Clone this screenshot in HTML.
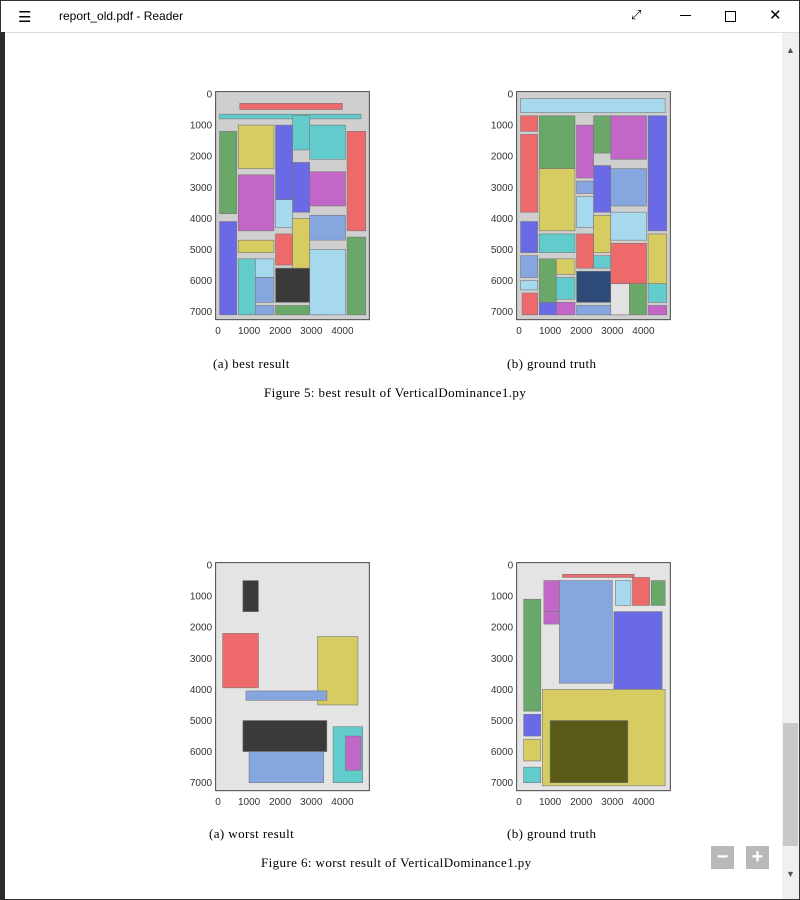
<!DOCTYPE html>
<html><head><meta charset="utf-8">
<style>
html,body{margin:0;padding:0;}
body{width:800px;height:900px;position:relative;overflow:hidden;background:#fff;font-family:"Liberation Sans",sans-serif;}
#frame{position:absolute;left:0;top:0;width:798px;height:898px;border:1px solid #333;}
#titlebar{position:absolute;left:1px;top:1px;width:798px;height:31px;background:#fff;border-bottom:1px solid #ddd;}
#title{position:absolute;left:58px;top:8px;font-size:12px;color:#000;}
#leftstrip{position:absolute;left:0;top:32px;width:5px;height:868px;background:#2b2b2b;}
#scroll{position:absolute;left:782px;top:33px;width:17px;height:866px;background:#f0f0f0;}
#thumb{position:absolute;left:783px;top:723px;width:15px;height:123px;background:#c8c8c8;}
.cap{position:absolute;font-family:"Liberation Serif",serif;font-size:13px;letter-spacing:0.4px;color:#000;white-space:nowrap;}
.zb{position:absolute;width:23px;height:23px;background:#b9b9b9;color:#fff;font-size:20px;line-height:22px;text-align:center;font-weight:bold;}
svg text{font-family:"Liberation Sans",sans-serif;font-size:10px;fill:#333;}
</style></head><body>
<div id="frame"></div>
<div id="titlebar">
  <div style="position:absolute;left:17px;top:7px;font-size:15px;">☰</div>
  <div id="title">report_old.pdf - Reader</div>
  <div style="position:absolute;left:630px;top:6px;font-size:13px;">⤢</div>
  <div style="position:absolute;left:679px;top:14px;width:11px;height:1px;background:#000;"></div>
  <div style="position:absolute;left:724px;top:10px;width:9px;height:9px;border:1px solid #000;"></div>
  <div style="position:absolute;left:768px;top:5px;font-size:15px;">✕</div>
</div>
<div id="leftstrip"></div>
<div id="scroll">
  <div style="position:absolute;left:4px;top:12px;font-size:9px;color:#555;">▲</div>
  <div style="position:absolute;left:4px;top:836px;font-size:9px;color:#555;">▼</div>
</div>
<div id="thumb"></div>

<svg id="plots" width="800" height="900" style="position:absolute;left:0;top:0;"></svg>

<div class="cap" style="left:213px;top:356px;">(a) best result</div>
<div class="cap" style="left:507px;top:356px;">(b) ground truth</div>
<div class="cap" style="left:264px;top:385px;">Figure 5:  best result of VerticalDominance1.py</div>
<div class="cap" style="left:209px;top:826px;">(a) worst result</div>
<div class="cap" style="left:507px;top:826px;">(b) ground truth</div>
<div class="cap" style="left:261px;top:855px;">Figure 6:  worst result of VerticalDominance1.py</div>
<div class="zb" style="left:711px;top:846px;">−</div>
<div class="zb" style="left:746px;top:846px;">+</div>

<script>
const xTicks=[0,1000,2000,3000,4000];
const yTicks=[0,1000,2000,3000,4000,5000,6000,7000];
const C={g:'#6aa86a',y:'#d6cc62',m:'#c266c8',b:'#6a6ae6',c:'#62cccc',l:'#a6d8ee',r:'#ee6a6a',s:'#86a6e0',k:'#3a3a3a',n:'#2d4a78',o:'#5a5a18',w:'#e2e2e2'};
const bestRects=[[700,300,4000,500,'r'],[50,650,4600,800,'c'],[50,1200,600,3850,'g'],[50,4100,600,7100,'b'],[650,1000,1800,2400,'y'],[650,2600,1800,4400,'m'],[650,4700,1800,5100,'y'],[650,5300,1200,7100,'c'],[1200,5300,1800,5900,'l'],[1200,5900,1800,6700,'s'],[1200,6800,1800,7100,'s'],[1850,1000,2400,3400,'b'],[1850,3400,2400,4300,'l'],[1850,4500,2400,5500,'r'],[1850,5600,3450,6700,'k'],[1850,6800,3450,7100,'g'],[2400,700,2950,1800,'c'],[2400,2200,2950,3800,'b'],[2400,4000,2950,5600,'y'],[2950,1000,4100,2100,'c'],[2950,2500,4100,3600,'m'],[2950,3900,4100,4700,'s'],[2950,5000,4100,7100,'l'],[4150,1200,4750,4400,'r'],[4150,4600,4750,7100,'g']];
const truthRects=[[50,150,4700,600,'l'],[50,700,600,1200,'r'],[50,1300,600,3800,'r'],[50,4100,600,5100,'b'],[50,5200,600,5900,'s'],[50,6000,600,6300,'l'],[100,6400,600,7100,'r'],[650,700,1800,2400,'g'],[650,2400,1800,4400,'y'],[650,4500,1800,5100,'c'],[650,5300,1200,6700,'g'],[1200,5300,1800,5800,'y'],[1200,5900,1800,6600,'c'],[650,6700,1200,7100,'b'],[1200,6700,1800,7100,'m'],[1850,1000,2400,2700,'m'],[1850,2800,2400,3200,'s'],[1850,3300,2400,4300,'l'],[1850,4500,2400,5600,'r'],[1850,5700,3450,6700,'n'],[1850,6800,3450,7100,'s'],[2400,700,2950,1900,'g'],[2400,2300,2950,3800,'b'],[2400,3900,2950,5100,'y'],[2400,5200,2950,5600,'c'],[2950,700,4100,2100,'m'],[2950,2400,4100,3600,'s'],[2950,3800,4100,4700,'l'],[2950,4800,4100,6100,'r'],[3550,6100,4100,7100,'g'],[2950,6100,3550,7100,'w'],[4150,700,4750,4400,'b'],[4150,4500,4750,6100,'y'],[4150,6100,4750,6700,'c'],[4150,6800,4750,7100,'m']];
const worstRects=[[800,500,1300,1500,'k'],[150,2200,1300,3950,'r'],[3200,2300,4500,4500,'y'],[900,4050,3500,4350,'s'],[800,5000,3500,6000,'k'],[1000,6000,3400,7000,'s'],[3700,5200,4650,7000,'c'],[4100,5500,4600,6600,'m']];
const worstTruthRects=[[150,1100,700,4700,'g'],[800,500,1300,1500,'m'],[800,1500,1300,1900,'m'],[1300,500,3000,3800,'s'],[3100,500,3600,1300,'l'],[3650,400,4200,1300,'r'],[4250,500,4700,1300,'g'],[3050,1500,4600,4000,'b'],[750,4000,4700,7100,'y'],[1000,5000,3500,7000,'o'],[150,4800,700,5500,'b'],[150,5600,700,6300,'y'],[150,6500,700,7000,'c'],[1400,300,3700,400,'r']];
const panels=[[218,94,bestRects,'#cfcfcf','best'],[519,94,truthRects,'#cfcfcf','truth'],[218,565,worstRects,'#e4e4e4','worst'],[519,565,worstTruthRects,'#e4e4e4','worst-truth']];
const S=0.0311;
const svg=document.getElementById('plots');
const NS='http://www.w3.org/2000/svg';
function mk(t,a){const e=document.createElementNS(NS,t);for(const k in a)e.setAttribute(k,a[k]);return e;}
panels.forEach(p=>{
  const ox=p[0],oy=p[1];
  const sx=v=>ox+v*S, sy=v=>oy+v*S;
  const g=mk('g',{});
  
  
  const bg=mk('rect',{x:sx(-60),y:sy(-60),width:4910*S,height:7300*S,fill:p[3]});
  
  
  g.appendChild(bg);
  p[2].forEach(r=>{
    const e=mk('rect',{x:sx(r[0]),y:sy(r[1]),width:(r[2]-r[0])*S,height:(r[3]-r[1])*S,fill:C[r[4]],stroke:'#777','stroke-width':0.6});
    
    
    g.appendChild(e);
  });
  const ax=mk('rect',{x:sx(-60)-0.5,y:sy(-60)-0.5,width:4910*S+1,height:7300*S+1,fill:'none',stroke:'#444','stroke-width':1});
  
  
  g.appendChild(ax);
  xTicks.forEach(v=>{
    const t=mk('text',{x:sx(v),y:sy(7240)+15,'text-anchor':'middle'});
    t.textContent=v;
    
    
    g.appendChild(t);
  });
  yTicks.forEach(v=>{
    const t=mk('text',{x:sx(-60)-4,y:sy(v)+3.5,'text-anchor':'end'});
    t.textContent=v;
    
    
    g.appendChild(t);
  });
  svg.appendChild(g);
});
</script>
</body></html>
